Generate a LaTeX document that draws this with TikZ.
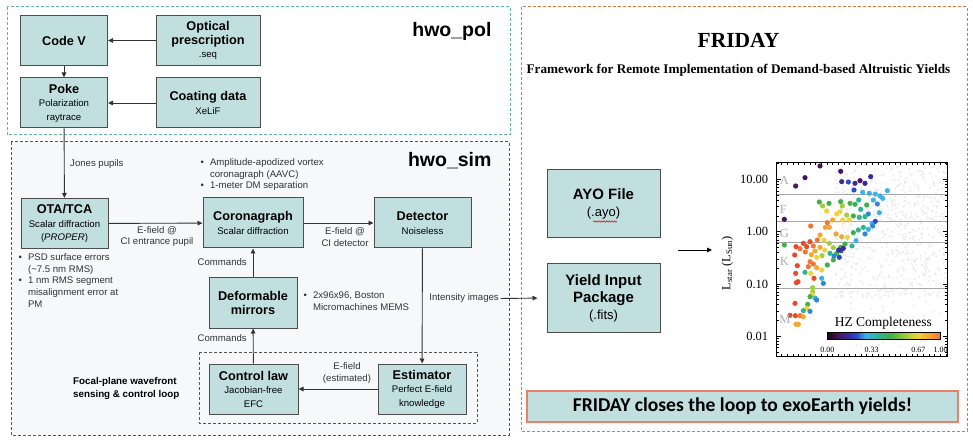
\documentclass[tikz,border=0pt]{standalone}
\usepackage{fontspec}
\setmainfont{Liberation Serif}
\newfontfamily\arialf{Liberation Sans}
\newfontfamily\calibf{Carlito}
\usetikzlibrary{arrows.meta,positioning,decorations.pathmorphing}
\definecolor{boxfill}{HTML}{C2DFE0}
\definecolor{boxline}{HTML}{4D4D4D}
\definecolor{polgreen}{HTML}{5DB99B}
\definecolor{simgray}{HTML}{555555}
\definecolor{simfill}{HTML}{F7F8FA}
\definecolor{fridayor}{HTML}{E07A3C}
\definecolor{bannerline}{HTML}{EC7F68}
\definecolor{txtgray}{HTML}{333333}
\definecolor{hzgray}{HTML}{A8A8A8}
\definecolor{specgray}{HTML}{ADADAD}
\definecolor{bgdot}{HTML}{EBEBEB}
\definecolor{cbk}{HTML}{160818}
\definecolor{cm0}{HTML}{4B145E}
\definecolor{cm1}{HTML}{3A2A9A}
\definecolor{cm2}{HTML}{2B4CC8}
\definecolor{cm3}{HTML}{2F86DA}
\definecolor{cm4}{HTML}{3FB2E4}
\definecolor{cm5}{HTML}{2DB594}
\definecolor{cm6}{HTML}{40B048}
\definecolor{cm7}{HTML}{A2D03C}
\definecolor{cm8}{HTML}{F0D23A}
\definecolor{cm9}{HTML}{F6A530}
\definecolor{cm10}{HTML}{F27530}
\definecolor{cm11}{HTML}{E84A2A}
\pgfdeclarehorizontalshading{hzcmap}{100bp}{color(0bp)=(cbk); color(25bp)=(cbk);
  color(30bp)=(cm0); color(34bp)=(cm1); color(38bp)=(cm2); color(42bp)=(cm4);
  color(48bp)=(cm5); color(53bp)=(cm6); color(60bp)=(cm7); color(65bp)=(cm8);
  color(70bp)=(cm9); color(75bp)=(cm10); color(100bp)=(cm10)}
\newcommand{\btitle}[1]{{\fontsize{12.7}{14}\selectfont\bfseries #1}}
\newcommand{\bigtitle}[1]{{\fontsize{15}{18}\selectfont\bfseries #1}}

\begin{document}
\begin{tikzpicture}[x=1pt,y=-1pt]
    \tikzset{block/.style= {draw=boxline,
                            fill=boxfill,
                            line width=1pt,
                            inner sep=0pt,
                            align=center,
                            minimum width=87pt,
                            minimum height=50pt,
                            font=\arialf\fontsize{9.6}{13.5}\selectfont},
             wide/.style=  {block, minimum width=104pt},
             big/.style=   {block,
                            minimum width=113pt,
                            minimum height=68pt,
                            font=\arialf\fontsize{13}{17}\selectfont},
             note/.style=  {inner sep=0pt,
                            text=txtgray,
                            align=center,
                            font=\arialf\fontsize{9.6}{11.7}\selectfont},
             group/.style= {line width=1pt, dash pattern=on 3pt off 2pt},
             arr/.style=   {-{Triangle[length=5pt,width=4.5pt]},
                            draw=txtgray,
                            line width=0.9pt},
             spec/.style=  {text=specgray, font=\fontsize{12.5}{14}\selectfont},
             tick/.style=  {anchor=east, font=\fontsize{12.5}{14}\selectfont},
            }
    \useasboundingbox (0,0) rectangle (973,443);
    \draw[group, draw=simgray, fill=simfill] (11,142) rectangle (509,435);
    \draw[group, draw=polgreen] (7,7) rectangle (510,135);
    \draw[group, draw=fridayor] (521,7) rectangle (967,431);
    \draw[group, draw=simgray, line width=0.8pt] (199,352) rectangle (477,423);
    \path
    (64,40.5)    node[block](codev) {\btitle{Code V}}
    (208,40.5)   node[wide](optic)  {\btitle{Optical}\\\btitle{prescription}\\.seq}
    (64,103)     node[block](poke)  {\btitle{Poke}\\Polarization\\raytrace}
    (208,103)    node[wide](coat)   {\btitle{Coating data}\\XeLiF}
    (64.5,223.5) node[block](ota)   {\btitle{OTA/TCA}\\Scalar diffraction\\(\textit{PROPER})}
    (253,223)    node[block, minimum width=100pt](coro) {\btitle{Coronagraph}\\Scalar diffraction}
    (422.5,223)  node[block, minimum width=97pt](det)   {\btitle{Detector}\\Noiseless}
    (253,303)    node[block, minimum width=88pt](dm)    {\btitle{Deformable}\\\btitle{mirrors}}
    (253.5,389)  node[block, minimum width=89pt](ctrl)  {\btitle{Control law}\\Jacobian-free\\EFC}
    (422,389)    node[block, minimum width=88pt](est)   {\btitle{Estimator}\\Perfect E-field\\knowledge}
    (603.5,203.5) node[big](ayo) {\bigtitle{AYO File}\\(.ayo)}
    (603.5,298)  node[big](yip)  {\bigtitle{Yield Input}\\\bigtitle{Package}\\(.fits)}
    ;
    \node[anchor=base east, font=\arialf\bfseries\fontsize{19.5}{22}\selectfont] (pol) at (495,37) {hwo\_pol};
    \node[anchor=base east, font=\arialf\bfseries\fontsize{19.5}{22}\selectfont] (sim) at (495,167) {hwo\_sim};
    \node[anchor=base, font=\bfseries\fontsize{21.5}{24}\selectfont] (fri) at (738.5,48) {FRIDAY};
    \node[anchor=base, font=\bfseries\fontsize{13.2}{15}\selectfont] (frisub) at (738.5,74)
        {Framework for Remote Implementation of Demand-based Altruistic Yields};
    \node[draw=bannerline, fill=boxfill, line width=1.2pt, minimum width=431pt, minimum height=31pt,
          font=\calibf\bfseries\fontsize{19.6}{20}\selectfont] (banner) at (742.5,406.5)
        {FRIDAY closes the loop to exoEarth yields!};
    \node[anchor=west, align=left, inner sep=0pt, text=black,
          font=\arialf\bfseries\fontsize{9.8}{13.5}\selectfont] (loop) at (73,388.5)
        {Focal-plane wavefront\\sensing \& control loop};
    \node[note, anchor=west] (jones) at (70,164.5) {Jones pupils};
    \node[note] (ef1) at (157,236.5) {E-field @\\CI entrance pupil};
    \node[note] (ef2) at (345,237) {E-field @\\CI detector};
    \node[note, anchor=east] (cmd1) at (247,262) {Commands};
    \node[note, anchor=east] (cmd2) at (247,338) {Commands};
    \node[note] (ef3) at (347,373) {E-field\\(estimated)};
    \node[note, anchor=east] (ints) at (499,298.5) {Intensity images};
    \node[note, anchor=north west, align=left] (coronote) at (200.5,157)
        {\begin{tabular}{@{}l@{\hspace{6pt}}l@{}}\textbullet & Amplitude-apodized vortex\\
          & coronagraph (AAVC)\\ \textbullet & 1-meter DM separation\end{tabular}};
    \node[note, anchor=north west, align=left] (otanote) at (18.5,252)
        {\begin{tabular}{@{}l@{\hspace{6pt}}l@{}}\textbullet & PSD surface errors\\
          & (\textasciitilde7.5 nm RMS)\\ \textbullet & 1 nm RMS segment\\
          & misalignment error at\\ & PM\end{tabular}};
    \node[note, anchor=north west, align=left] (dmnote) at (303.5,290)
        {\begin{tabular}{@{}l@{\hspace{6pt}}l@{}}\textbullet & 2x96x96, Boston\\
          & Micromachines MEMS\end{tabular}};
    \draw[arr] (optic) -- (codev);
    \draw[arr] (coat)  -- (poke);
    \draw[arr] (codev) -- (poke);
    \draw[arr] (poke)  -- (ota);
    \draw[arr] (ota)   -- (coro);
    \draw[arr] (coro)  -- (det);
    \draw[arr] (dm)    -- (coro);
    \draw[arr] (ctrl)  -- (dm);
    \draw[arr] (det)   -- (est);
    \draw[arr] (est)   -- (ctrl);
    \draw[arr, shorten <=1.5pt, shorten >=9pt] (ints.east) -- (yip.west);
    \draw[red!85!black, line width=0.5pt, decorate,
          decoration={snake, amplitude=0.7pt, segment length=2.6pt}] (593,221.5) -- (617,221.5);
    \coordinate (pa) at (678,250);
    \coordinate (pb) at (712,250);
    \draw[arr, draw=black] (pa) -- (pb);
    \begin{scope}[shift={(520,140)}, scale=1/3]
        \pgfmathsetseed{42}
        \foreach \i in {1,...,750}{
            \pgfmathsetmacro\gx{945+335*rnd}
            \pgfmathsetmacro\gy{72+400*rnd}
            \fill[bgdot] (\gx,\gy) circle[radius=3.3];
        }
        \foreach \i in {1,...,60}{
            \pgfmathsetmacro\gx{990+290*rnd}
            \pgfmathsetmacro\gy{470+150*rnd}
            \fill[bgdot] (\gx,\gy) circle[radius=3.3];
        }
        \foreach \hy in {163,245,308,445}
            \draw[hzgray, line width=1.3pt] (768,\hy) -- (1283,\hy);
        \foreach \px/\py/\c in {200/78/0,262/94/0,155/113/0,127/138/0,265/125/1,285/126/2,
            305/130/1,320/122/0,335/130/1,352/110/1,302/150/2,328/157/4,348/160/4,366/162/4,
            380/168/4,388/175/4,402/152/4,93/238/0,93/315/6,198/186/6,208/198/7,220/213/8,
            227/190/6,262/185/6,267/198/7,260/215/8,290/190/6,305/193/6,316/180/5,322/208/5,
            340/195/6,360/180/4,372/192/3,378/218/4,345/222/3,335/230/5,318/232/5,300/228/6,
            288/240/8,280/225/7,268/240/8,250/222/8,238/240/9,222/248/10,216/262/9,228/262/9,
            172/258/10,248/282/9,265/290/9,282/292/8,300/278/6,315/270/5,330/262/5,345/268/4,
            356/250/4,366/244/2,358/258/3,335/282/3,308/302/4,296/318/5,275/312/6,262/322/6,
            250/340/6,240/323/7,228/310/7,212/300/8,200/285/9,192/300/10,180/318/10,170/305/11,
            160/320/11,150/310/11,140/326/10,156/336/10,174/344/9,190/352/8,206/347/7,222/375/6,
            240/360/6,258/352/2,263/332/2,270/325/1,256/330/1,242/348/3,230/340/5,214/330/8,
            200/322/9,185/333/9,170/365/10,180/372/10,165/380/10,190/383/9,205/390/8,128/320/11,
            124/345/11,132/377/11,127/400/11,134/425/11,129/428/11,155/397/5,172/400/8,182/415/11,
            205/415/4,210/430/3,178/443/7,178/456/7,176/464/8,170/470/6,185/474/4,190/480/3,
            163/493/6,160/505/8,150/512/5,170/514/3,125/490/11,110/526/11,126/527/11,140/527/10,
            150/530/9,128/553/9,135/553/9}
            \fill[cm\c] (700+\px,\py) circle[radius=7.8];
        \draw[line width=0.8pt] (768,68) rectangle (1283,650);
        \begin{scope}
            \clip (768,68) rectangle (1283,650);
            \foreach \d in {118,275,432,588,745}{
                \draw[line width=0.6pt] (768,\d) -- ++(15,0) (1283,\d) -- ++(-15,0);
                \foreach \k in {2,...,9}{
                    \pgfmathsetmacro\ty{\d-157*log10(\k)}
                    \draw[line width=0.5pt] (768,\ty) -- ++(8,0) (1283,\ty) -- ++(-8,0);
                }
            }
            \foreach \tx in {785,802,...,1280}
                \draw[line width=0.5pt] (\tx,68) -- ++(0,8) (\tx,650) -- ++(0,-8);
        \end{scope}
        \node[spec] (sa) at (793,120) {A};
        \node[spec] (sf) at (790,207) {F};
        \node[spec] (sg) at (793,280) {G};
        \node[spec] (sk) at (793,365) {K};
        \node[spec] (sm) at (795,537) {M};
        \node[tick] (t1) at (755,118) {10.00};
        \node[tick] (t2) at (755,275) {1.00};
        \node[tick] (t3) at (755,432) {0.10};
        \node[tick] (t4) at (755,588) {0.01};
        \node[rotate=90, font=\fontsize{12.5}{14}\selectfont] (ylab) at (622,370)
            {L\textsubscript{star} (L\textsubscript{Sun})};
        \shade[shading=hzcmap] (922,578) rectangle (1260,598);
        \draw[line width=0.6pt] (922,578) rectangle (1260,598);
        \node[font=\fontsize{13.5}{15}\selectfont] (hz) at (1090,550) {HZ Completeness};
        \node[font=\fontsize{8}{9}\selectfont] (c0) at (922,630) {0.00};
        \node[font=\fontsize{8}{9}\selectfont] (c1) at (1055,630) {0.33};
        \node[font=\fontsize{8}{9}\selectfont] (c2) at (1195,630) {0.67};
        \node[font=\fontsize{8}{9}\selectfont] (c3) at (1262,630) {1.00};
    \end{scope}
\end{tikzpicture}
\end{document}
